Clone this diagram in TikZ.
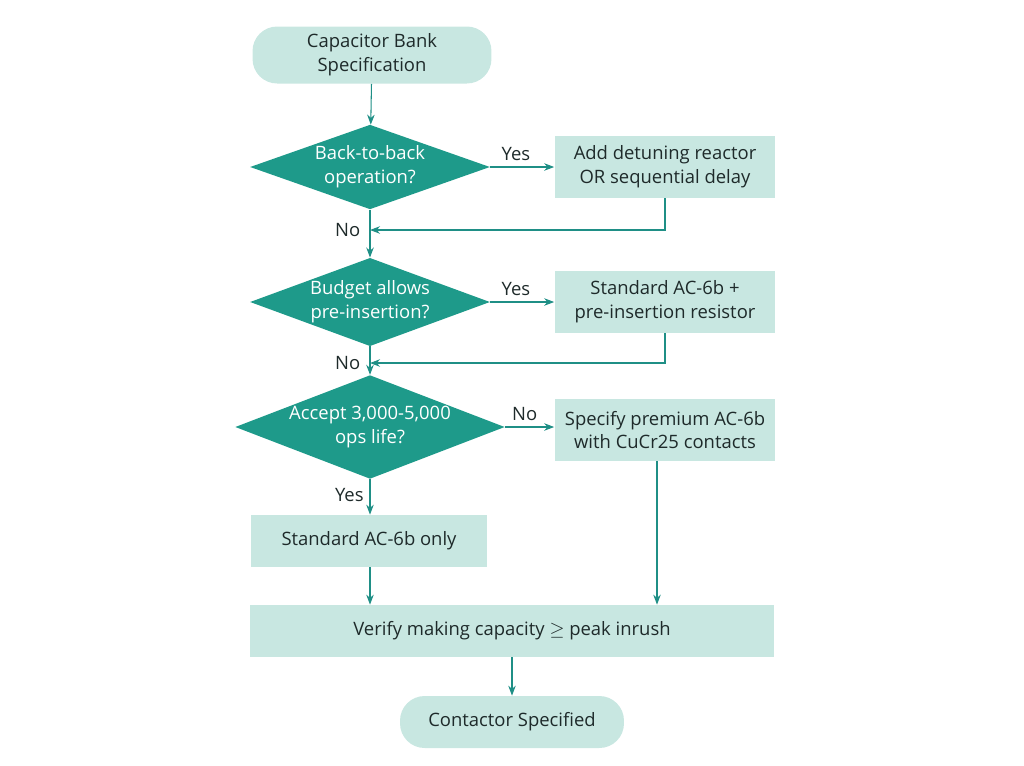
\documentclass[tikz,border=0pt]{standalone}
\usepackage{fontspec}
\setmainfont{Open Sans}
\usetikzlibrary{shapes.geometric, arrows.meta, positioning, calc}
\definecolor{tealdark}{HTML}{1E9A8A}
\definecolor{teallight}{HTML}{C8E7E1}
\definecolor{tealline}{HTML}{1F8F86}
\definecolor{inktext}{HTML}{1E2A2A}

\begin{document}
\begin{tikzpicture}[
    x=0.02cm, y=-0.02cm,
    >=Stealth,
    terminal/.style={draw=none, fill=teallight, rounded corners=14pt, minimum height=1.14cm, align=center, font=\fontsize{10.5}{13.5}\selectfont, text=inktext},
    decision/.style={diamond, aspect=2.6, draw=none, fill=tealdark, minimum width=4.8cm, inner sep=0pt, align=center, font=\fontsize{10.5}{13.5}\selectfont, text=white},
    process/.style={draw=none, fill=teallight, minimum width=4.42cm, minimum height=1.24cm, align=center, font=\fontsize{10.5}{13.5}\selectfont, text=inktext},
    flow/.style={->, semithick, tealline},
    lbl/.style={font=\fontsize{10.5}{13.5}\selectfont, text=inktext}
  ]
    \useasboundingbox (0,0) rectangle (1024,765);

    % Main column
    \node[terminal, minimum width=4.78cm] (start) at (372,55) {Capacitor Bank\\Specification};
    \node[decision] (backtoback) at (370,167) {Back-to-back\\operation?};
    \node[decision] (budget) at (370,302) {Budget allows\\pre-insertion?};
    \node[decision] (opslife) at (370,427) {Accept 3,000-5,000\\ops life?};
    \node[process, minimum width=4.74cm, minimum height=1.04cm] (standard) at (369,541) {Standard AC-6b only};
    \node[process, minimum width=10.5cm, minimum height=1.04cm] (verify) at (512,631) {Verify making capacity $\geq$ peak inrush};
    \node[terminal, minimum width=4.48cm, minimum height=1.04cm] (done) at (512,722) {Contactor Specified};

    % Side branch
    \node[process] (detuning) at (665,167) {Add detuning reactor\\OR sequential delay};
    \node[process] (preinsert) at (665,302) {Standard AC-6b +\\pre-insertion resistor};
    \node[process] (premium) at (665,430) {Specify premium AC-6b\\with CuCr25 contacts};

    % Merge points
    \coordinate (merge1) at (370,230);
    \coordinate (merge2) at (370,363);

    % Connectors
    \draw[flow] (start) -- (backtoback);
    \draw[flow] (backtoback) -- node[lbl, above, pos=0.4] {Yes} (detuning);
    \draw[flow] (detuning.south) |- (merge1);
    \draw[semithick, tealline] (backtoback.south) -- (merge1);
    \draw[flow] (merge1) -- (budget.north);
    \node[lbl, left=2pt of merge1] {No};

    \draw[flow] (budget) -- node[lbl, above, pos=0.4] {Yes} (preinsert);
    \draw[flow] (preinsert.south) |- (merge2);
    \draw[semithick, tealline] (budget.south) -- (merge2);
    \draw[flow] (merge2) -- (opslife.north);
    \node[lbl, left=2pt of merge2] {No};

    \draw[flow] (opslife.east) -- node[lbl, above, pos=0.4] {No} (opslife.east -| premium.west);
    \draw[flow] (opslife.south) -- node[lbl, left, pos=0.45] {Yes} (standard.north -| opslife.south);
    \draw[flow] (standard.south -| opslife.south) -- (verify.north -| opslife.south);
    \draw[flow] ($(premium.south)+(-8,0)$) -- ($(premium.south |- verify.north)+(-8,0)$);
    \draw[flow] (verify) -- (done);
  \end{tikzpicture}
\end{document}
